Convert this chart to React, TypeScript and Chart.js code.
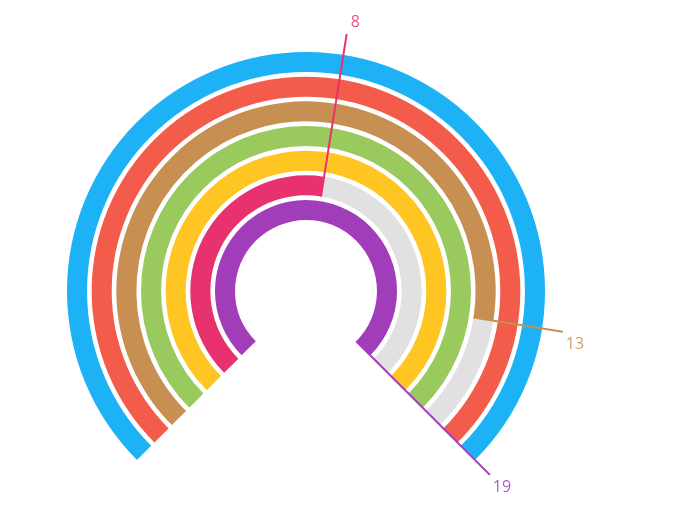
import React, { useEffect, useRef } from "react";
import { Chart, registerables } from "chart.js";

Chart.register(...registerables);

const seriesNames = ["Blue", "Red", "Brown", "Green", "Yellow", "Pink", "Purple"];
const seriesValues = [15, 15, 13, 15, 15, 8, 19];
const scaleMax = 15;
const showValueLabel = [false, false, true, false, false, true, true];
const seriesColors = ["#1DB1F6", "#F35B4B", "#C78F52", "#9AC95D", "#FFC523", "#E8316F", "#A23DBA"];
const trackColor = "#E1E1E1";

const labelPlugin = {
  id: "endLabels",
  afterDatasetsDraw(chart: any) {
    const ctx = chart.ctx;
    const outerMeta = chart.getDatasetMeta(0);
    const outerR = outerMeta.data[0].outerRadius;
    seriesValues.forEach((v, i) => {
      if (!showValueLabel[i]) return;
      const meta = chart.getDatasetMeta(i * 2);
      const arc = meta.data[0];
      const a = arc.endAngle;
      const cx = arc.x, cy = arc.y;
      const r0 = arc.innerRadius;
      const r1 = outerR + 21;
      const x0 = cx + Math.cos(a) * r0, y0 = cy + Math.sin(a) * r0;
      const x1 = cx + Math.cos(a) * r1, y1 = cy + Math.sin(a) * r1;
      ctx.save();
      ctx.strokeStyle = seriesColors[i];
      ctx.lineWidth = 2;
      ctx.beginPath();
      ctx.moveTo(x0, y0);
      ctx.lineTo(x1, y1);
      ctx.stroke();
      ctx.globalAlpha = 0.85;
      ctx.fillStyle = seriesColors[i];
      ctx.font = "16px 'Open Sans', sans-serif";
      ctx.textAlign = "left";
      if (y1 < cy) {
        ctx.textBaseline = "bottom";
        ctx.fillText(String(v), x1 + 4, y1 - 4);
      } else {
        ctx.textBaseline = "top";
        ctx.fillText(String(v), x1 + 3, y1 + 5);
      }
      ctx.restore();
    });
  },
};

export default function App() {
  const ref = useRef<HTMLCanvasElement>(null);
  useEffect(() => {
    const datasets: any[] = [];
    seriesValues.forEach((v, i) => {
      const shown = Math.min(v, scaleMax);
      datasets.push({
        label: seriesNames[i],
        data: [shown, scaleMax - shown],
        backgroundColor: [seriesColors[i], trackColor],
        borderWidth: 0,
        weight: 20,
      });
      if (i < seriesValues.length - 1) {
        datasets.push({
          label: "gap" + i,
          data: [1],
          backgroundColor: ["rgba(0,0,0,0)"],
          borderWidth: 0,
          weight: 4.6,
        });
      }
    });
    const chart = new Chart(ref.current!, {
      type: "doughnut",
      data: { labels: ["value", "rest"], datasets },
      options: {
        responsive: false,
        animation: false,
        rotation: -135,
        circumference: 270,
        cutout: "29.7%",
        layout: { padding: { top: 52, bottom: 50, left: 67, right: 136 } },
        plugins: { legend: { display: false }, tooltip: { enabled: false } },
      } as any,
      plugins: [labelPlugin],
    });
    return () => chart.destroy();
  }, []);
  return (
    <div style={{ position: "absolute", left: 0, top: 0, width: 681, height: 510 }}>
      <canvas ref={ref} width={681} height={510} />
    </div>
  );
}
